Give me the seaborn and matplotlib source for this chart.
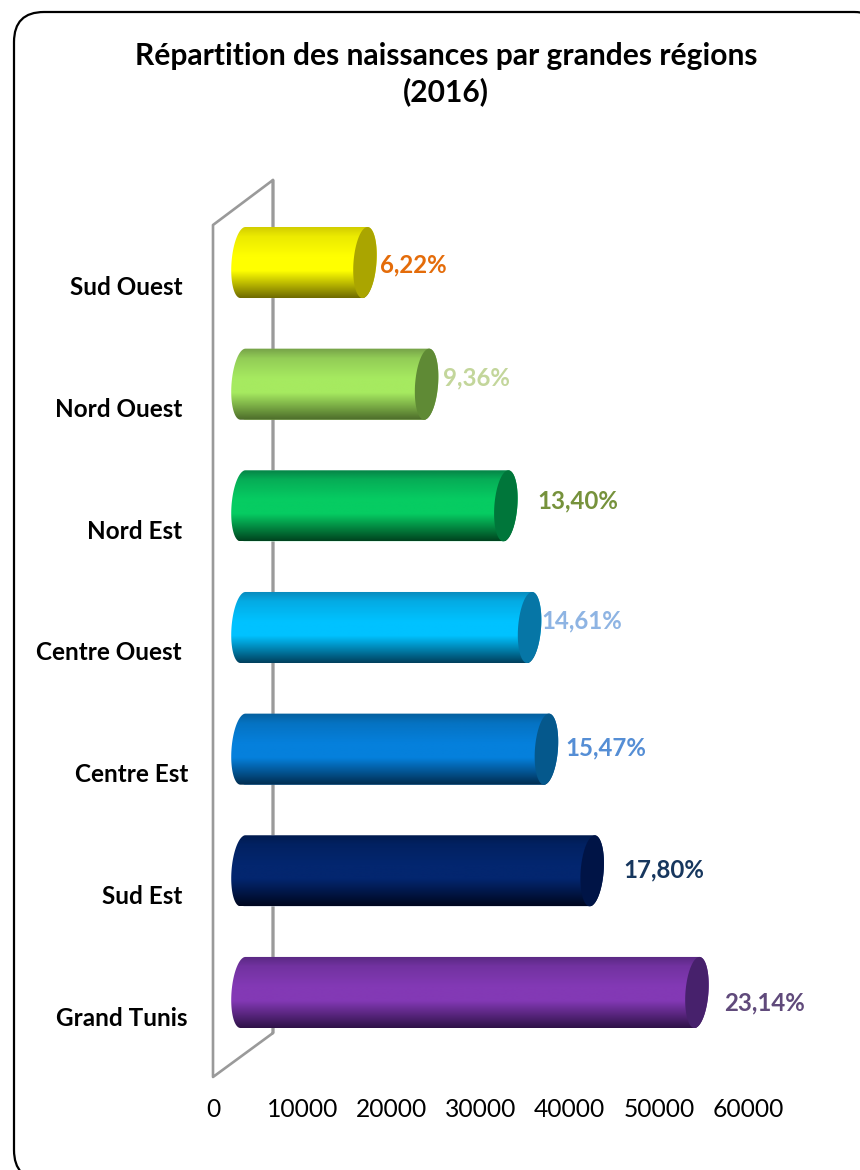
import numpy as np
import matplotlib
matplotlib.use("Agg")
import matplotlib.pyplot as plt
from matplotlib.colors import LinearSegmentedColormap, to_rgb
from matplotlib.patches import FancyBboxPatch
import seaborn as sns

# Donnees
regions = ["Sud Ouest", "Nord Ouest", "Nord Est", "Centre Ouest", "Centre Est", "Sud Est", "Grand Tunis"]
tick_labels = ["Sud Ouest ", "Nord Ouest ", "Nord Est ", "Centre Ouest ", "Centre Est", "Sud Est ", "Grand Tunis"]
naissances = [13680, 20590, 29480, 32140, 34030, 39160, 50910]
parts = ["6,22%", "9,36%", "13,40%", "14,61%", "15,47%", "17,80%", "23,14%"]
x_ticks = [0, 10000, 20000, 30000, 40000, 50000, 60000]

# Couleurs des cylindres : haut, milieu, bas, face du bout
body_top = ["#CFCA00", "#74A048", "#067E45", "#0A88BA", "#055F9C", "#001A4C", "#582881"]
body_mid = ["#FFFF00", "#A6EA60", "#06CC62", "#00C2FF", "#0580DC", "#03266F", "#8339B5"]
body_bottom = ["#6E6A00", "#4C6B2A", "#00431F", "#013F5C", "#012C4E", "#00071F", "#2E1247"]
cap_colors = ["#AAA500", "#5F8A35", "#00763A", "#0676A6", "#05588C", "#001446", "#47216C"]
label_colors = ["#E46C0A", "#C3D69B", "#76923C", "#8EB4E3", "#558ED5", "#17375E", "#604A7B"]

# Decalage des etiquettes par rapport au bout de chaque barre (pixels)
label_dx = [48, 50, 72, 52, 59, 72, 68]
label_dy = [2.5, -6, -5, -6.5, -1, -1, 10.5]

W, H = 860, 1170
sns.set_theme(style="white")
plt.rcParams["font.family"] = ["Lato", "DejaVu Sans"]

fig = plt.figure(figsize=(W / 100, H / 100), dpi=100, facecolor="white")


def px_axes(left, top, right, bottom, **kws):
    return fig.add_axes([left / W, 1 - bottom / H, (right - left) / W, (bottom - top) / H], **kws)


def mix(c1, c2, f):
    return tuple((1 - f) * a + f * b for a, b in zip(to_rgb(c1), to_rgb(c2)))


# Fond : cadre arrondi et paroi du graphique
ax_bg = px_axes(0, 0, W, H)
ax_bg.set_xlim(0, W)
ax_bg.set_ylim(H, 0)
ax_bg.axis("off")
ax_bg.add_patch(FancyBboxPatch((14, 12), 870, 1168, boxstyle="round,pad=0,rounding_size=30",
                               fc="white", ec="black", lw=1.6, clip_on=False))
ax_bg.plot([273, 273, 213, 213, 273, 273], [1033, 180, 225, 1077, 1033, 180], color="#9A9A9A", lw=1.9)

fig.text(446 / W, 1 - 74 / H, "Répartition des naissances par grandes régions\n(2016)",
         ha="center", va="center", fontsize=21.6, fontweight="bold", color="black", linespacing=1.27)

# Plan avant : axes et libelles
ax_front = px_axes(213, 225, 748, 1077)
ax_front.patch.set_alpha(0)
ax_front.set_xlim(0, 60000)
ax_front.set_ylim(6.5, -0.5)
ax_front.set_xticks(x_ticks, [str(t) for t in x_ticks], fontsize=17.7, color="black")
ax_front.set_yticks(range(len(tick_labels)), tick_labels, fontsize=17.5, fontweight="bold", color="black")
ax_front.tick_params(axis="x", length=0, pad=15)
ax_front.tick_params(axis="y", length=0, pad=18)
sns.despine(ax=ax_front, left=True, bottom=True)

# Plan des barres, decale de la moitie de la profondeur
ax = px_axes(243, 201.7, 778, 1053.3)
ax.patch.set_alpha(0)
sns.barplot(x=naissances, y=regions, hue=regions, palette=body_mid, saturation=1,
            width=0.584, legend=False, dodge=False, ax=ax)
ax.set_xlim(0, 60000)
ax.set_ylim(6.5, -0.5)
ax.axis("off")

unit = 60000 / 535  # valeur par pixel
half_w = 11.5 * unit
skew = 2.5 * unit
gradient = np.linspace(0, 1, 256).reshape(-1, 1)

for i, bar in enumerate(ax.patches):
    value = bar.get_width()
    top = bar.get_y()
    h = bar.get_height()
    yc = top + h / 2

    t_left = np.linspace(np.pi / 2, 3 * np.pi / 2, 60)
    t_right = np.linspace(-np.pi / 2, np.pi / 2, 60)
    outline = np.vstack([
        np.column_stack([half_w * np.cos(t_left) - skew * np.sin(t_left), yc + h / 2 * np.sin(t_left)]),
        np.column_stack([value + half_w * np.cos(t_right) - skew * np.sin(t_right), yc + h / 2 * np.sin(t_right)]),
    ])
    cylinder = plt.Polygon(outline, closed=True, transform=ax.transData, fc="none", ec="none")
    ax.add_patch(cylinder)
    cylinder.set_clip_on(False)
    bar.set_clip_path(cylinder)

    # degrade plus doux : bord sombre fin en haut, ombre en bas
    cmap = LinearSegmentedColormap.from_list(
        "cyl", [(0, body_top[i]), (0.14, mix(body_top[i], body_mid[i], 0.6)), (0.42, body_mid[i]),
                (0.62, body_mid[i]), (0.85, mix(body_mid[i], body_bottom[i], 0.6)), (1, body_bottom[i])])
    im = ax.imshow(gradient, cmap=cmap, aspect="auto", origin="upper",
                   extent=(-2 * half_w, value + 2 * half_w, top + h, top), zorder=3)
    im.set_clip_path(cylinder)
    im.set_clip_box(fig.bbox)

    t = np.linspace(0, 2 * np.pi, 120)
    ax.fill(value + half_w * np.cos(t) - skew * np.sin(t), yc + h / 2 * np.sin(t),
            color=cap_colors[i], lw=0, zorder=4)

    ax.annotate(parts[i], xy=(value, yc), xytext=(label_dx[i], -label_dy[i]), textcoords="offset pixels",
                ha="center", va="center", fontsize=17.3, fontweight="bold", color=label_colors[i],
                annotation_clip=False, zorder=5)

ax.set_xlim(0, 60000)
ax.set_ylim(6.5, -0.5)

fig.savefig("out.png", dpi=100)
